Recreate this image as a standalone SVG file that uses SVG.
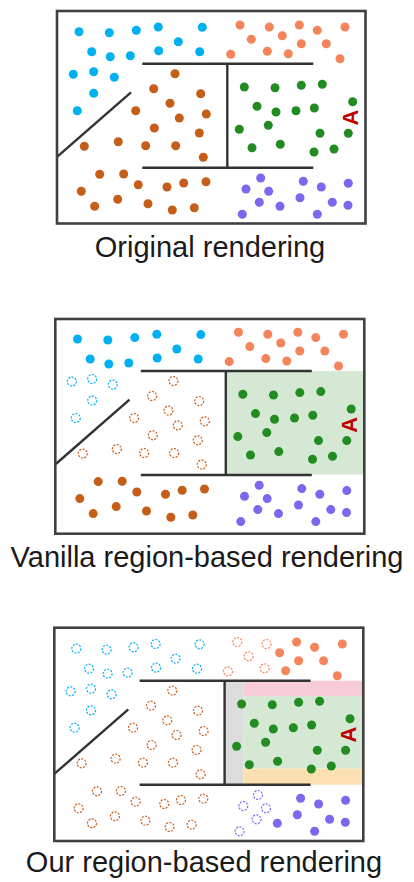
<svg xmlns="http://www.w3.org/2000/svg" width="414" height="882" viewBox="0 0 414 882">
<style>
.frame{fill:none;stroke:#404040;stroke-width:2.6}
.wall{stroke:#333333;stroke-width:2.4;fill:none}
.blue{fill:#00b0f0}
.peach{fill:#f4845a}
.brown{fill:#c55e19}
.green{fill:#228b22}
.purple{fill:#7b68ee}
.d{fill:none;stroke-width:1.2;stroke-dasharray:2 1.4}
.dblue{stroke:#00b0f0}
.dpeach{stroke:#f4845a}
.dbrown{stroke:#c55e19}
.dpurple{stroke:#7b68ee}
.lbl{font-family:"Liberation Sans",Arial,sans-serif;font-size:29px;fill:#1a1a1a;text-anchor:middle}
.A{font-family:"Liberation Sans",Arial,sans-serif;font-size:22px;font-weight:bold;fill:#c00000;text-anchor:middle}
</style>
<defs>
<g id="blueTop">
<circle cx="79" cy="31.7" r="4.5"/><circle cx="109.3" cy="32.7" r="4.5"/><circle cx="136.3" cy="30.3" r="4.5"/><circle cx="158.3" cy="27" r="4.5"/><circle cx="202.3" cy="27.3" r="4.5"/><circle cx="91.7" cy="51.7" r="4.5"/><circle cx="110.3" cy="56.7" r="4.5"/><circle cx="130.3" cy="55.7" r="4.5"/><circle cx="158.7" cy="50.7" r="4.5"/><circle cx="178.3" cy="41.7" r="4.5"/><circle cx="199.7" cy="51.7" r="4.5"/>
</g>
<g id="blueLow">
<circle cx="73.3" cy="74.3" r="4.5"/><circle cx="93.7" cy="71.7" r="4.5"/><circle cx="114.3" cy="77.3" r="4.5"/><circle cx="93.7" cy="93.3" r="4.5"/><circle cx="77.3" cy="110.7" r="4.5"/>
</g>
<g id="peachL">
<circle cx="240" cy="25" r="4.5"/><circle cx="269.3" cy="27" r="4.5"/><circle cx="251.3" cy="39.3" r="4.5"/><circle cx="230.7" cy="54.3" r="4.5"/><circle cx="267.3" cy="51.3" r="4.5"/>
</g>
<g id="peachR">
<circle cx="299.3" cy="25" r="4.5"/><circle cx="317.3" cy="30.3" r="4.5"/><circle cx="345" cy="27" r="4.5"/><circle cx="282.3" cy="35.7" r="4.5"/><circle cx="301.3" cy="43.7" r="4.5"/><circle cx="326.3" cy="43.7" r="4.5"/><circle cx="288.3" cy="53.7" r="4.5"/><circle cx="340" cy="58.7" r="4.5"/>
</g>
<g id="brownMid">
<circle cx="175" cy="73.7" r="4.5"/><circle cx="153.7" cy="88.7" r="4.5"/><circle cx="200.7" cy="93.7" r="4.5"/><circle cx="170" cy="103.3" r="4.5"/><circle cx="135.7" cy="110.7" r="4.5"/><circle cx="179.3" cy="118" r="4.5"/><circle cx="206.3" cy="114" r="4.5"/><circle cx="154.3" cy="128" r="4.5"/><circle cx="199.3" cy="133" r="4.5"/><circle cx="84.3" cy="146.3" r="4.5"/><circle cx="118.3" cy="141.7" r="4.5"/><circle cx="145.7" cy="145.7" r="4.5"/><circle cx="175.7" cy="145.7" r="4.5"/><circle cx="203.3" cy="157.3" r="4.5"/>
</g>
<g id="brownLow">
<circle cx="99.7" cy="174.3" r="4.5"/><circle cx="123.7" cy="174" r="4.5"/><circle cx="138.3" cy="184.7" r="4.5"/><circle cx="167" cy="187" r="4.5"/><circle cx="183.7" cy="183" r="4.5"/><circle cx="206" cy="181.7" r="4.5"/><circle cx="81.3" cy="191.3" r="4.5"/><circle cx="94.7" cy="206.3" r="4.5"/><circle cx="117.7" cy="199.3" r="4.5"/><circle cx="148" cy="203.7" r="4.5"/><circle cx="172.3" cy="210" r="4.5"/><circle cx="194.3" cy="207.7" r="4.5"/>
</g>
<g id="greenDots">
<circle cx="244.3" cy="87" r="4.5"/><circle cx="275" cy="87.7" r="4.5"/><circle cx="301.3" cy="85.3" r="4.5"/><circle cx="322.3" cy="84.3" r="4.5"/><circle cx="352.7" cy="101.7" r="4.5"/><circle cx="257" cy="106.3" r="4.5"/><circle cx="276" cy="112" r="4.5"/><circle cx="296" cy="110.7" r="4.5"/><circle cx="314.3" cy="108" r="4.5"/><circle cx="239.3" cy="129.3" r="4.5"/><circle cx="268.3" cy="125.3" r="4.5"/><circle cx="320" cy="133.3" r="4.5"/><circle cx="348.3" cy="133.3" r="4.5"/><circle cx="252" cy="147.7" r="4.5"/><circle cx="280.3" cy="144.3" r="4.5"/><circle cx="314" cy="152" r="4.5"/><circle cx="334" cy="149" r="4.5"/>
</g>
<g id="purpleL">
<circle cx="260.7" cy="178" r="4.5"/><circle cx="246" cy="189" r="4.5"/><circle cx="268.7" cy="191.3" r="4.5"/><circle cx="259.3" cy="202.3" r="4.5"/><circle cx="242.3" cy="214.3" r="4.5"/>
</g>
<g id="purpleR">
<circle cx="303.3" cy="181.3" r="4.5"/><circle cx="321.3" cy="187" r="4.5"/><circle cx="348.3" cy="183.3" r="4.5"/><circle cx="300" cy="197.7" r="4.5"/><circle cx="332.3" cy="202.3" r="4.5"/><circle cx="348" cy="205.3" r="4.5"/><circle cx="280" cy="206.3" r="4.5"/><circle cx="317.3" cy="214.3" r="4.5"/>
</g>
<g id="walls" class="wall">
<line x1="142.3" y1="63.7" x2="313.3" y2="63.7"/>
<line x1="142.3" y1="167.7" x2="313.3" y2="167.7"/>
<line x1="227.3" y1="63.7" x2="227.3" y2="167.7"/>
<line x1="57.3" y1="156.7" x2="131" y2="92.3"/>
</g>
<text id="letterA" class="A" transform="translate(350.5,117.5) rotate(-90)" x="0" y="7.9">A</text>
</defs>

<rect width="414" height="882" fill="#ffffff"/>

<g id="panel1">
<use href="#blueTop" class="blue"/>
<use href="#blueLow" class="blue"/>
<use href="#peachL" class="peach"/>
<use href="#peachR" class="peach"/>
<use href="#brownMid" class="brown"/>
<use href="#brownLow" class="brown"/>
<use href="#greenDots" class="green"/>
<use href="#purpleL" class="purple"/>
<use href="#purpleR" class="purple"/>
<use href="#walls"/>
<use href="#letterA"/>
</g>
<rect class="frame" x="57" y="11" width="308.5" height="212.5"/>
<text class="lbl" x="210" y="257">Original rendering</text>

<g id="panel2" transform="translate(-1.5,307.3)">
<rect x="227.3" y="63.7" width="138" height="103.5" fill="#d5e8d4"/>
<use href="#blueTop" class="blue"/>
<use href="#blueLow" class="d dblue"/>
<use href="#peachL" class="peach"/>
<use href="#peachR" class="peach"/>
<use href="#brownMid" class="d dbrown"/>
<use href="#brownLow" class="brown"/>
<use href="#greenDots" class="green"/>
<use href="#purpleL" class="purple"/>
<use href="#purpleR" class="purple"/>
<use href="#walls"/>
<use href="#letterA"/>
</g>
<rect class="frame" x="55.3" y="319" width="309" height="214.7"/>
<text class="lbl" x="207" y="567">Vanilla region-based rendering</text>

<g id="panel3" transform="translate(-2.7,617)">
<rect x="227.3" y="63.7" width="18.7" height="104" fill="#dcdcdc"/>
<rect x="246" y="63.7" width="119.5" height="15.3" fill="#f8ccd6"/>
<rect x="246" y="79" width="119.5" height="72.7" fill="#d5e8d4"/>
<rect x="246" y="151.7" width="119.5" height="16" fill="#fde0b2"/>
<use href="#blueTop" class="d dblue"/>
<use href="#blueLow" class="d dblue"/>
<use href="#peachL" class="d dpeach"/>
<use href="#peachR" class="peach"/>
<use href="#brownMid" class="d dbrown"/>
<use href="#brownLow" class="d dbrown"/>
<use href="#greenDots" class="green"/>
<use href="#purpleL" class="d dpurple"/>
<use href="#purpleR" class="purple"/>
<use href="#walls"/>
<use href="#letterA"/>
</g>
<rect class="frame" x="54.3" y="627.7" width="309" height="213.3"/>
<text class="lbl" x="204" y="872">Our region-based rendering</text>
</svg>
